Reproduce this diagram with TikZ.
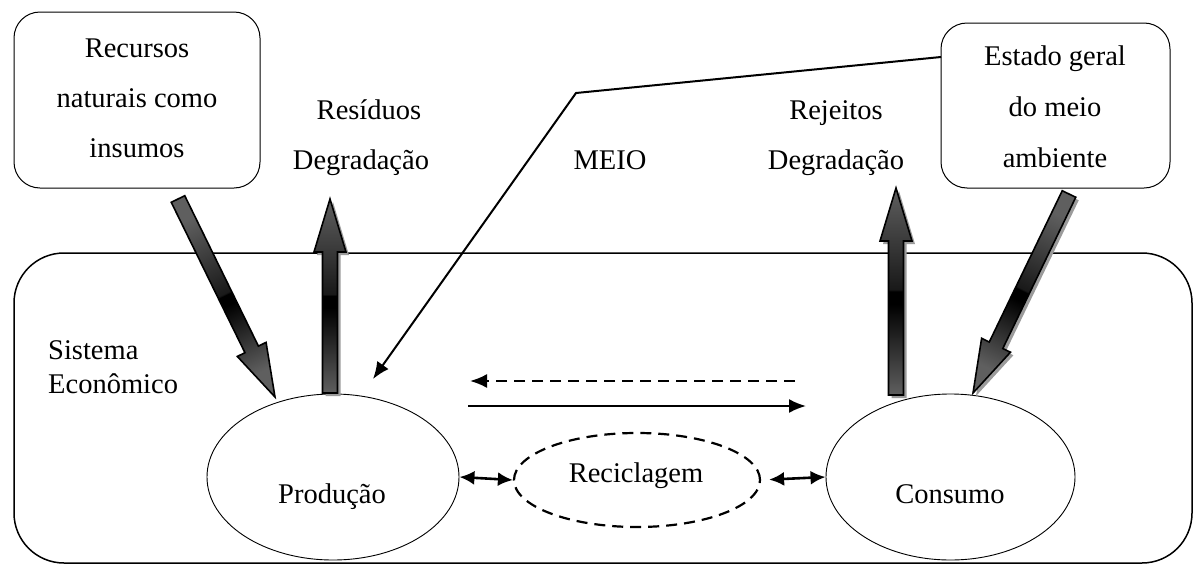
\documentclass[tikz,border=0pt]{standalone}
\usepackage{fontspec}
\setmainfont{Liberation Serif}
\usetikzlibrary{calc,shapes.geometric,arrows.meta}
\definecolor{agray}{RGB}{95,95,95}
\definecolor{dkgray}{RGB}{25,25,25}
\definecolor{shgray}{RGB}{155,155,155}
\pgfdeclareverticalshading{fatshade}{100bp}{color(0bp)=(agray); color(25bp)=(agray); color(47bp)=(black); color(50bp)=(black); color(50.5bp)=(dkgray); color(75bp)=(agray); color(100bp)=(agray)}
\tikzset{
  lbl/.style={font=\fontsize{28.5pt}{34pt}\selectfont, inner sep=0pt, anchor=base},
  rbox/.style={draw, line width=1pt, rectangle, inner sep=0pt},
  oval/.style={draw, ellipse, line width=0.9pt, inner sep=0pt},
  fatfill/.style={draw=black, line width=1.6pt, line join=miter, shading=fatshade},
  shadowfill/.style={fill=shgray, transform canvas={shift={(3,3)}}},
  noshadow/.style={},
  thinarrow/.style={line width=2pt, -{Latex[length=17pt,width=14pt]}},
  dblarrow/.style={line width=2.6pt, {Latex[length=15pt,width=14pt]}-{Latex[length=15pt,width=14pt]}},
}
\newcommand\fatarrow[5]{%
  \coordinate (#4b) at ($(#2)!53pt!(#1)$);
  \coordinate (#4t1) at ($(#1)!7.5pt!90:(#2)$);
  \coordinate (#4t2) at ($(#1)!7.5pt!-90:(#2)$);
  \coordinate (#4s1) at ($(#4b)!7.5pt!90:(#2)$);
  \coordinate (#4s2) at ($(#4b)!7.5pt!-90:(#2)$);
  \coordinate (#4h1) at ($(#4b)!16pt!90:(#2)$);
  \coordinate (#4h2) at ($(#4b)!16pt!-90:(#2)$);
  \path[#5] (#4t1) -- (#4s1) -- (#4h1) -- (#2) -- (#4h2) -- (#4s2) -- (#4t2) -- cycle;
  \path[fatfill, shading angle=#3] (#4t1) -- (#4s1) -- (#4h1) -- (#2) -- (#4h2) -- (#4s2) -- (#4t2) -- cycle;
}
\begin{document}
\begin{tikzpicture}[x=1pt,y=-1pt]
\useasboundingbox (0,0) rectangle (1194,565);

% boxes
\node[rbox, minimum width=246pt, minimum height=176pt, rounded corners=26pt] (rec) at (137,100) {};
\node[rbox, minimum width=229pt, minimum height=165pt, rounded corners=26pt] (est) at (1055.5,105.5) {};
\node[draw, line width=1.5pt, rectangle, inner sep=0pt, minimum width=1178pt, minimum height=310pt, rounded corners=50pt] (sys) at (603,408) {};

% ellipses
\node[oval, minimum width=252pt, minimum height=166pt] (prod) at (333,477) {};
\node[oval, minimum width=249pt, minimum height=166pt] (cons) at (950.5,477) {};
\node[draw, ellipse, line width=2.2pt, dash pattern=on 11pt off 7pt, inner sep=0pt, minimum width=246pt, minimum height=94pt] (recic) at (637,480) {};

% labels
\node[lbl] (r1) at (137,57) {Recursos};
\node[lbl] (r2) at (137,107) {naturais como};
\node[lbl] (r3) at (137,157) {insumos};
\node[lbl] (e1) at (1055,65) {Estado geral};
\node[lbl] (e2) at (1055,116) {do meio};
\node[lbl] (e3) at (1055,167) {ambiente};
\node[lbl] (res) at (369,119) {Resíduos};
\node[lbl] (deg1) at (361,169) {Degradação};
\node[lbl] (meio) at (610,169) {MEIO};
\node[lbl] (rej) at (836,119) {Rejeitos};
\node[lbl] (deg2) at (836,169) {Degradação};
\node[lbl, anchor=base west] (s1) at (48,359) {Sistema};
\node[lbl, anchor=base west] (s2) at (48,393) {Econômico};
\node[lbl] (tprod) at (332,503) {Produção};
\node[lbl] (trec) at (636,482) {Reciclagem};
\node[lbl] (tcons) at (950,503) {Consumo};

% fat arrows
\coordinate (a1t) at (178,199); \coordinate (a1h) at (275,397);
\coordinate (a2t) at (330,393); \coordinate (a2h) at (330,199);
\coordinate (a3t) at (896,395); \coordinate (a3h) at (896,188);
\coordinate (a4t) at (1069,194); \coordinate (a4h) at (973,393);
\fatarrow{a1t}{a1h}{26}{fa}{noshadow}
\fatarrow{a2t}{a2h}{0}{fb}{shadowfill}
\fatarrow{a3t}{a3h}{0}{fc}{shadowfill}
\fatarrow{a4t}{a4h}{-26}{fd}{shadowfill}

% MEIO connector
\coordinate (mstart) at (941,57);
\coordinate (mbend) at (576,93);
\coordinate (mtip) at (373,379);
\draw[thinarrow, line join=miter] (mstart) -- (mbend) -- (mtip);

% horizontal flows
\coordinate (d1) at (795,381); \coordinate (d2) at (470,381);
\coordinate (s1a) at (468,406); \coordinate (s1b) at (806,406);
\draw[thinarrow, dash pattern=on 11pt off 7pt] (d1) -- (d2);
\draw[thinarrow] (s1a) -- (s1b);

% double arrows
\draw[dblarrow] (prod.east) -- (recic.west);
\draw[dblarrow, shorten <=8pt] (recic.east) -- (cons.west);
\end{tikzpicture}
\end{document}
